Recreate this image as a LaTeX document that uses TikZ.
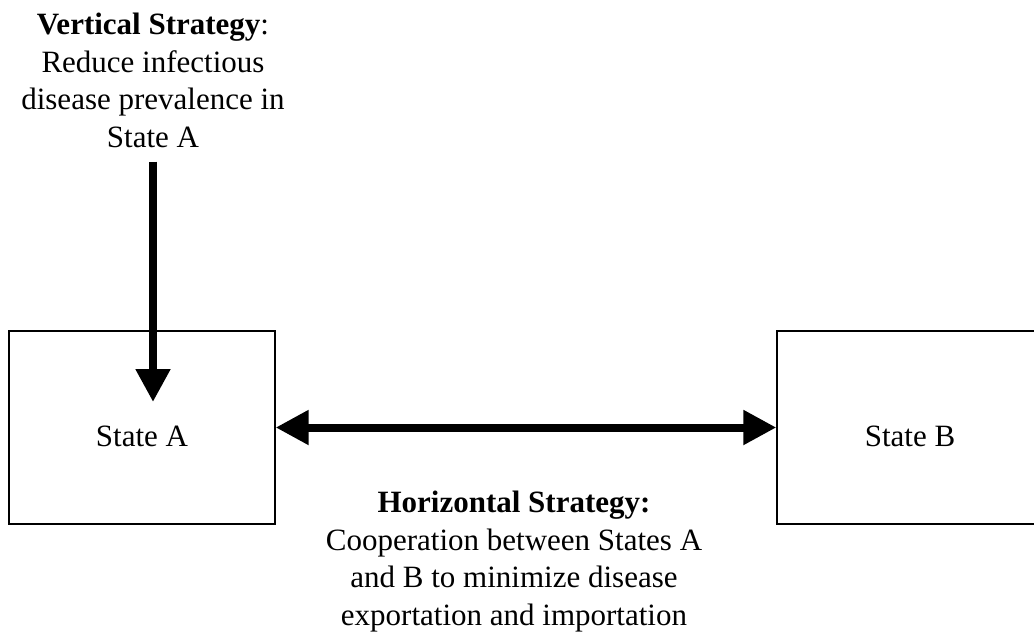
\documentclass[tikz,border=0pt]{standalone}
\usepackage{fontspec}
\setmainfont{Liberation Serif}
\usetikzlibrary{arrows.meta}
\begin{document}
\begin{tikzpicture}[x=1pt,y=-1pt,
    every node/.style={font=\fontsize{31}{37.5}\selectfont},
    statebox/.style={draw,line width=1.3pt,minimum width=266pt,minimum height=193pt},
    bigarrow/.style={line width=8pt,-{Triangle[length=33pt,width=33pt]}}]
      \useasboundingbox (0,0) rectangle (1034,637);
      \node[statebox] (A) at (142,427.5) {};
      \node[statebox] (B) at (910,427.5) {};
      \node (labA) at ([yshift=-8.5pt]A.center) {State A};
      \node (labB) at ([yshift=-8.5pt]B.center) {State B};
      \node[anchor=north,align=center,inner sep=0pt] (vert) at (153,13)
        {\textbf{Vertical Strategy}:\\Reduce infectious\\disease prevalence in\\State A};
      \node[anchor=north,align=center,inner sep=0pt] (horiz) at (514,491)
        {\textbf{Horizontal Strategy:}\\Cooperation between States A\\and B to minimize disease\\exportation and importation};
      \coordinate (tipA) at (153,402);
      \draw[bigarrow] (vert.south) ++(0,14) -- (tipA);
      \draw[bigarrow,{Triangle[length=33pt,width=33pt]}-{Triangle[length=33pt,width=33pt]}] (A.east) -- (B.west);
    \end{tikzpicture}
\end{document}
